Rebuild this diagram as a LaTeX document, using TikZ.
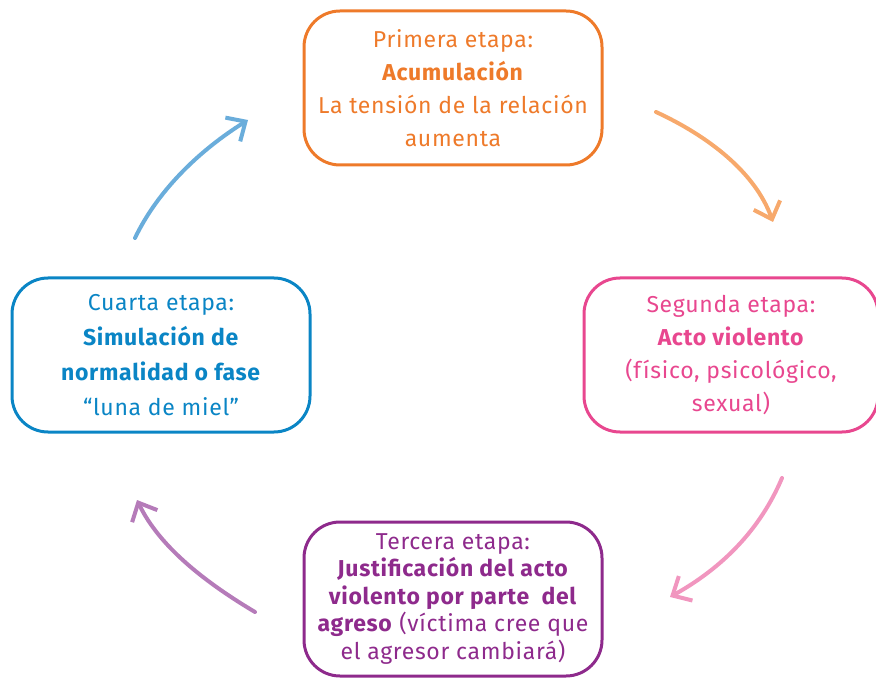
\documentclass[tikz,border=0pt]{standalone}
\usepackage{fontspec}
\setmainfont[LetterSpace=3]{Fira Sans}
\usetikzlibrary{arrows.meta}

\definecolor{naranja}{HTML}{EE7A2A}
\definecolor{rosa}{HTML}{E8478F}
\definecolor{morado}{HTML}{8E2A8C}
\definecolor{azul}{HTML}{0A85C5}
\definecolor{naranjaclaro}{HTML}{F7A96C}
\definecolor{rosaclaro}{HTML}{F196BF}
\definecolor{moradoclaro}{HTML}{B57BB9}
\definecolor{azulclaro}{HTML}{6AADDB}

\begin{document}
\begin{tikzpicture}[%
      x=1pt, y=-1pt,
      etapa/.style={draw, line width=3pt, rounded corners=36pt, align=center,
        inner sep=0pt, minimum width=298pt, minimum height=154pt,
        font=\fontsize{23}{33}\selectfont},
      flecha/.style={line width=4pt, line cap=round,
        -{Straight Barb[length=15pt,width=28pt,line width=4pt]}},
      ]
      \useasboundingbox (0,0) rectangle (876,679);

      \node [etapa, naranja] (acum) at (453,88) {Primera etapa:\\
        \textbf{Acumulación}\\
        La tensión de la relación\\
        aumenta};
      \node [etapa, rosa, minimum width=294pt] (acto) at (731,355) {Segunda etapa:\\
        \textbf{Acto violento}\\
        (físico, psicológico,\\
        sexual)};
      \node [etapa, morado, font=\fontsize{23}{27.5}\selectfont] (justif) at (453,599) {Tercera etapa:\\
        \textbf{Justificación del acto}\\
        \textbf{violento por parte\ \ del}\\
        \textbf{agreso} (víctima cree que\\
        el agresor cambiará)};
      \node [etapa, azul, font=\fontsize{23}{35}\selectfont] (simul) at (161,355) {Cuarta etapa:\\
        \textbf{Simulación de}\\
        \textbf{normalidad o fase}\\
        “luna de miel”};

      % extremos de las flechas
      \coordinate (a1) at (656,112);
      \coordinate (b1) at (773,222);
      \coordinate (a2) at (782,478);
      \coordinate (b2) at (670,597);
      \coordinate (a3) at (255,612);
      \coordinate (b3) at (137,500);
      \coordinate (a4) at (135,238);
      \coordinate (b4) at (248,120);

      \draw [flecha, naranjaclaro] (a1) .. controls (708,136) and (755,172) .. (b1);
      \draw [flecha, rosaclaro] (a2) .. controls (760,530) and (722,568) .. (b2);
      \draw [flecha, moradoclaro] (a3) .. controls (208,584) and (160,548) .. (b3);
      \draw [flecha, azulclaro] (a4) .. controls (158,190) and (200,150) .. (b4);
\end{tikzpicture}
\end{document}
